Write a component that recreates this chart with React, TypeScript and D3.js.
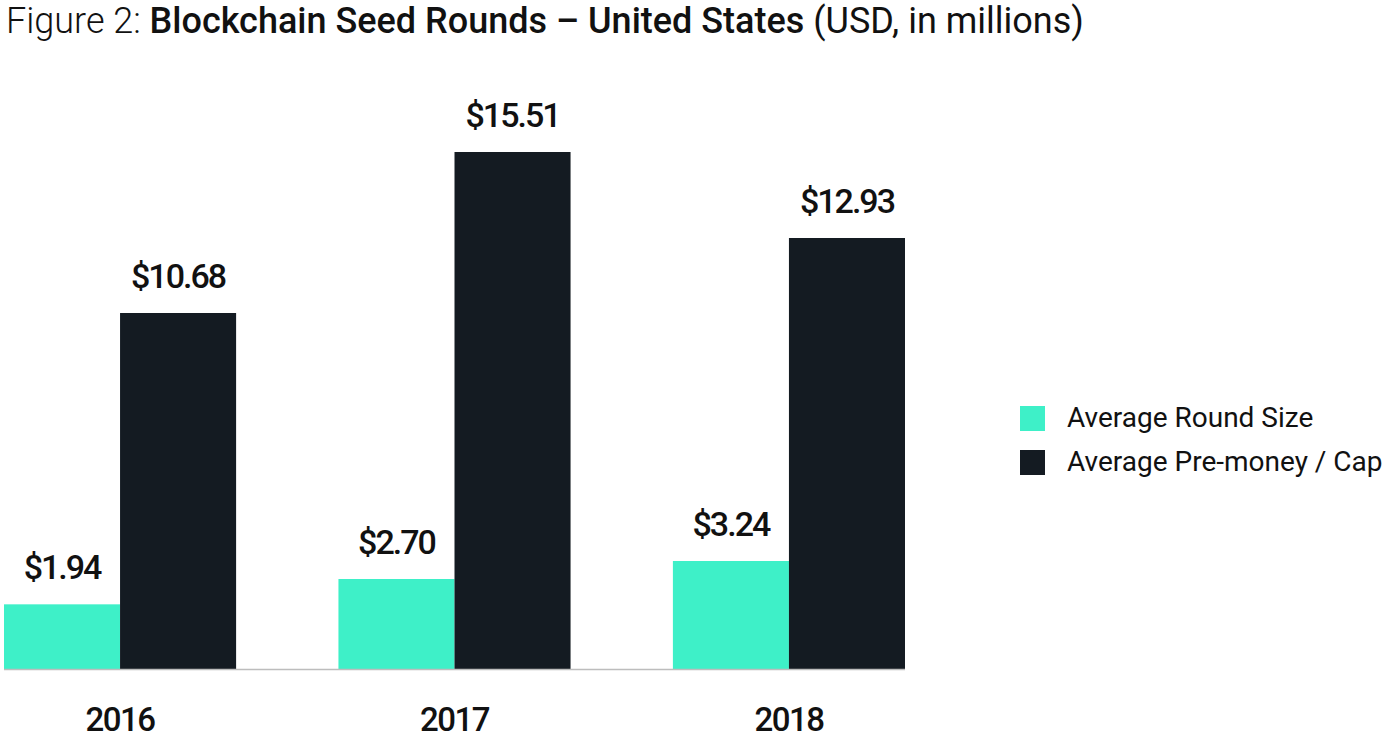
import React from 'react';
import * as d3 from 'd3';

const years = ['2016', '2017', '2018'];
const seriesNames = ['Average Round Size', 'Average Pre-money / Cap'];
const roundSize = [1.94, 2.7, 3.24];
const preMoney = [10.68, 15.51, 12.93];
const seriesColors = ['#3ef0c8', '#141b22'];

const W = 1400;
const H = 740;
const FONT = 'Roboto, "Open Sans", sans-serif';

export default function App() {
  const base = 669;
  const x0 = d3.scaleBand<string>().domain(years).range([4, 905]).paddingInner(0.306).paddingOuter(0);
  const x1 = d3.scaleBand<number>().domain([0, 1]).range([0, x0.bandwidth()]);
  const y = d3.scaleLinear().domain([0, 15.51]).range([base, 152]);
  const fmt = (v: number) => `$${d3.format('.2f')(v)}`;
  const series = [roundSize, preMoney];

  return (
    <div style={{ position: 'absolute', left: 0, top: 0 }}>
      <svg width={W} height={H} viewBox={`0 0 ${W} ${H}`} style={{ display: 'block', background: '#fff' }}>
        {/* title */}
        <text x={6} y={33} fontFamily={FONT} fontSize={36} fill="#111">
          <tspan fontWeight={300}>Figure 2: </tspan>
          <tspan fontWeight={500}>Blockchain Seed Rounds – United States</tspan>
          <tspan fontWeight={400}> (USD, in millions)</tspan>
        </text>

        {/* bars */}
        {years.map((yr, i) => (
          <g key={yr} transform={`translate(${x0(yr)},0)`}>
            {series.map((vals, s) => (
              <g key={s}>
                <rect x={x1(s)} y={y(vals[i])} width={x1.bandwidth()} height={base - y(vals[i])} fill={seriesColors[s]} />
                <text
                  x={(x1(s) ?? 0) + x1.bandwidth() / 2}
                  y={y(vals[i]) - 25}
                  textAnchor="middle"
                  fontFamily={FONT}
                  fontWeight={500}
                  fontSize={34}
                  letterSpacing={-2}
                  fill="#111"
                >
                  {fmt(vals[i])}
                </text>
              </g>
            ))}
            <text
              x={x0.bandwidth() / 2}
              y={731}
              textAnchor="middle"
              fontFamily={FONT}
              fontWeight={500}
              fontSize={33}
              letterSpacing={-1.5}
              fill="#111"
            >
              {yr}
            </text>
          </g>
        ))}

        {/* baseline */}
        <line x1={4} x2={905} y1={base + 0.5} y2={base + 0.5} stroke="#bdbdbd" strokeWidth={1.5} />

        {/* legend */}
        {seriesNames.map((name, s) => (
          <g key={name} transform={`translate(1020,${406 + s * 44})`}>
            <rect x={0} y={0} width={25} height={25} fill={seriesColors[s]} />
            <text x={47} y={21} fontFamily={FONT} fontSize={28} fill="#111">
              {name}
            </text>
          </g>
        ))}
      </svg>
    </div>
  );
}
